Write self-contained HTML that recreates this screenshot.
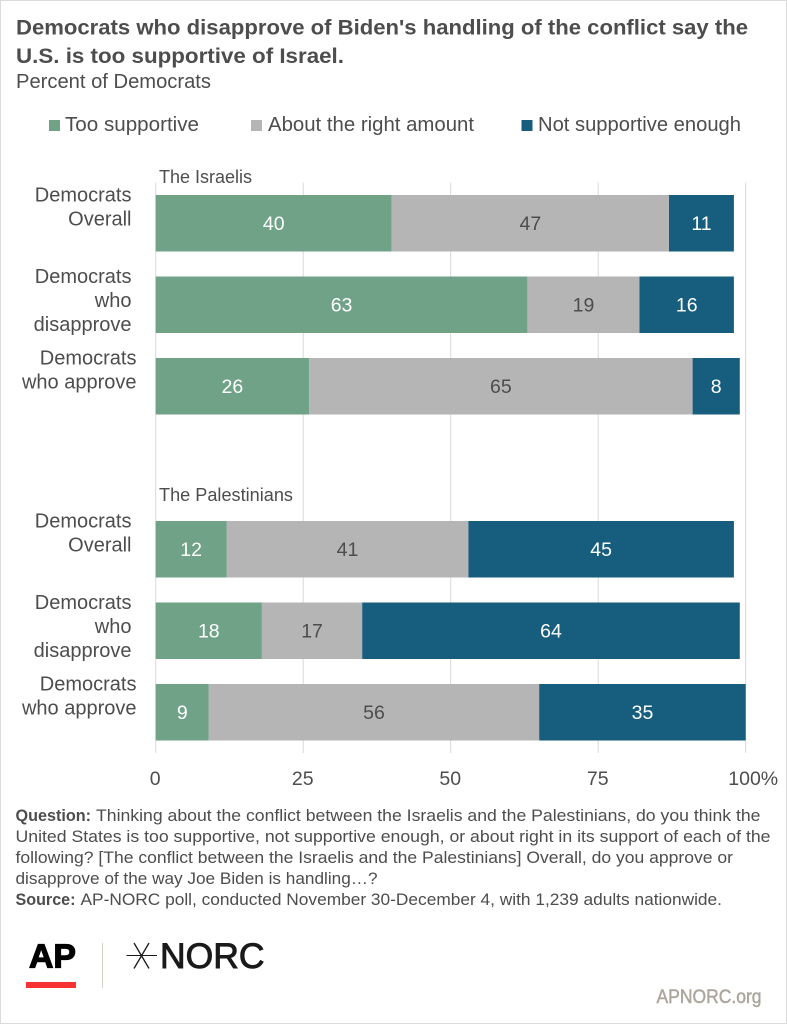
<!DOCTYPE html>
<html lang="en">
<head>
<meta charset="utf-8">
<title>Democrats who disapprove of Biden's handling of the conflict</title>
<style>
html,body{margin:0;padding:0;background:#fff;}
body{width:787px;height:1024px;overflow:hidden;}
svg{display:block;font-family:"Liberation Sans",Arial,sans-serif;}
text{fill:#4d4d4d;}
</style>
</head>
<body>
<svg id="chart" xmlns="http://www.w3.org/2000/svg" width="787" height="1024" viewBox="0 0 787 1024">
  <rect x="0.5" y="0.5" width="786" height="1023" fill="#fff" stroke="#dcdcdc" stroke-width="1"/>

  <text x="16" y="34.5" font-size="21.5" font-weight="700" textLength="732" lengthAdjust="spacingAndGlyphs">Democrats who disapprove of Biden's handling of the conflict say the</text>
  <text x="16" y="63" font-size="21.5" font-weight="700" textLength="328" lengthAdjust="spacingAndGlyphs">U.S. is too supportive of Israel.</text>
  <text x="16" y="88" font-size="20" textLength="195" lengthAdjust="spacingAndGlyphs">Percent of Democrats</text>

  <g>
    <rect x="49" y="120" width="11" height="11" fill="#70a287"/>
    <text x="65" y="131" font-size="20" textLength="134" lengthAdjust="spacingAndGlyphs">Too supportive</text>
    <rect x="251" y="120" width="11" height="11" fill="#b5b5b5"/>
    <text x="268" y="131" font-size="20" textLength="206" lengthAdjust="spacingAndGlyphs">About the right amount</text>
    <rect x="521.5" y="120" width="11" height="11" fill="#175e7e"/>
    <text x="538" y="131" font-size="20" textLength="203" lengthAdjust="spacingAndGlyphs">Not supportive enough</text>
  </g>

  <g id="grid"></g>
  <g id="bars"></g>
  <g id="rows"></g>
  <g id="ticks"></g>

  <text x="159" y="183" font-size="18" textLength="93" lengthAdjust="spacingAndGlyphs">The Israelis</text>
  <text x="159" y="501" font-size="18" textLength="134" lengthAdjust="spacingAndGlyphs">The Palestinians</text>

  <g font-size="16.5">
    <text x="15.5" y="821" font-weight="700" textLength="75.5" lengthAdjust="spacingAndGlyphs">Question:</text>
    <text x="96" y="821" textLength="664.5" lengthAdjust="spacingAndGlyphs">Thinking about the conflict between the Israelis and the Palestinians, do you think the</text>
    <text x="15.5" y="842" textLength="755" lengthAdjust="spacingAndGlyphs">United States is too supportive, not supportive enough, or about right in its support of each of the</text>
    <text x="15.5" y="863" textLength="717.5" lengthAdjust="spacingAndGlyphs">following? [The conflict between the Israelis and the Palestinians] Overall, do you approve or</text>
    <text x="15.5" y="884" textLength="362" lengthAdjust="spacingAndGlyphs">disapprove of the way Joe Biden is handling…?</text>
    <text x="15.5" y="905" font-weight="700" textLength="60" lengthAdjust="spacingAndGlyphs">Source:</text>
    <text x="80.5" y="905" textLength="641.5" lengthAdjust="spacingAndGlyphs">AP-NORC poll, conducted November 30-December 4, with 1,239 adults nationwide.</text>
  </g>

  <g>
    <text x="29" y="967.5" font-size="33.5" font-weight="700" textLength="47" lengthAdjust="spacingAndGlyphs" style="fill:#000;stroke:#000;stroke-width:1.2">AP</text>
    <rect x="26" y="982" width="50" height="6" fill="#f83232"/>
  </g>
  <rect x="102" y="943" width="1" height="45" fill="#d3d0c8"/>
  <g>
    <g stroke="#1a1a1a" fill="none">
      <line x1="126.5" y1="955.5" x2="157" y2="955.5" stroke-width="1"/>
      <line x1="134" y1="943" x2="149" y2="968.5" stroke-width="1.3"/>
      <line x1="149" y1="943" x2="134" y2="968.5" stroke-width="1.3"/>
    </g>
    <text x="160" y="968" font-size="35" textLength="104.5" lengthAdjust="spacingAndGlyphs" style="fill:#1a1a1a;stroke:#1a1a1a;stroke-width:.9">NORC</text>
  </g>
  <text x="656.5" y="1003" font-size="19" font-weight="400" textLength="105" lengthAdjust="spacingAndGlyphs" style="fill:#aaa69c;stroke:#aaa69c;stroke-width:.45">APNORC.org</text>
</svg>

<script>
// Chart data (percent of Democrats); null marks the blank slot between the two groups
const categories = ['Democrats\nOverall', 'Democrats\nwho\ndisapprove', 'Democrats\nwho approve', null, 'Democrats\nOverall', 'Democrats\nwho\ndisapprove', 'Democrats\nwho approve'];
const tooSupportive = [40, 63, 26, null, 12, 18, 9];
const aboutRight = [47, 19, 65, null, 41, 17, 56];
const notSupportive = [11, 16, 8, null, 45, 64, 35];
const tickValues = [0, 25, 50, 75, 100];
const tickLabels = ['0', '25', '50', '75', '100%'];

const NS = 'http://www.w3.org/2000/svg';
const xScale = function (v) { return 155.7 + v * 5.9; };
const rowTop = function (i) { return 195 + i * 81.5; };
const BAR_H = 56.5;

function make(tag, attrs, parent, content) {
  const el = document.createElementNS(NS, tag);
  Object.keys(attrs).forEach(function (k) { el.setAttribute(k, attrs[k]); });
  if (content !== undefined) el.textContent = content;
  parent.appendChild(el);
  return el;
}

const gridG = document.getElementById('grid');
const barsG = document.getElementById('bars');
const rowsG = document.getElementById('rows');
const ticksG = document.getElementById('ticks');

tickValues.forEach(function (t, i) {
  const line = make('line', { x1: xScale(t), x2: xScale(t), y1: 182.5, y2: 753, stroke: '#d9d9d9', 'stroke-width': 1 }, gridG);
  
  
  const isLast = i === tickValues.length - 1;
  const label = make('text', {
    x: isLast ? xScale(t) + 7.5 : xScale(t) - 0.5,
    y: 785,
    'font-size': 19.5,
    'text-anchor': 'middle'
  }, ticksG, tickLabels[i]);
  
  
});

const seriesList = [
  { values: tooSupportive, fill: '#70a287', text: '#ffffff' },
  { values: aboutRight, fill: '#b5b5b5', text: '#4d4d4d' },
  { values: notSupportive, fill: '#175e7e', text: '#ffffff' }
];

categories.forEach(function (cat, i) {
  if (cat === null) return;
  const top = rowTop(i);
  const lines = cat.split('\n');
  const rightEdge = cat.indexOf('who approve') >= 0 ? 136.5 : 131.5;
  lines.forEach(function (ln, k) {
    const rowLabel = make('text', {
      x: rightEdge,
      y: top + 6.6 + k * 24,
      'font-size': 20,
      'text-anchor': 'end'
    }, rowsG, ln);
    
    
  });

  let cum = 0;
  seriesList.forEach(function (s) {
    const v = s.values[i];
    const x0 = xScale(cum);
    const x1 = xScale(cum + v);
    const bar = make('rect', { x: x0, y: top, width: x1 - x0, height: BAR_H, fill: s.fill }, barsG);
    
    
    const value = make('text', {
      x: (x0 + x1) / 2,
      y: top + 35,
      'font-size': 19.5,
      'text-anchor': 'middle',
      style: 'fill:' + s.text
    }, barsG, String(v));
    
    
    cum += v;
  });
});
</script>
</body>
</html>
